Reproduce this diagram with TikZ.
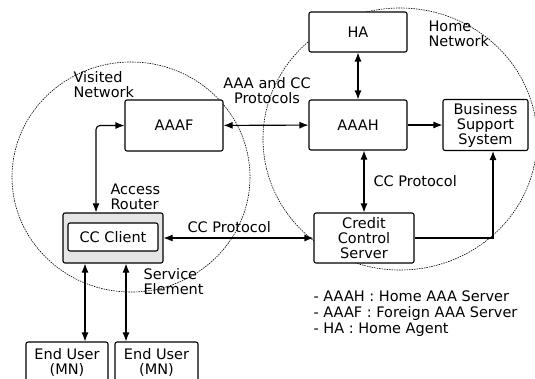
\documentclass[tikz,border=0pt]{standalone}
\usepackage{fontspec}
\setmainfont{DejaVu Sans}
\usetikzlibrary{arrows.meta}
\tikzset{>={Latex[length=9pt, width=7pt]}}
\tikzset{box/.style={draw, rounded corners=2pt, align=center, inner sep=0pt},
    lbl/.style={align=left, inner sep=0pt},
    net/.style={line width=.6pt, dash pattern=on 1.5pt off 1pt}}

\begin{document}
\begin{tikzpicture}[x=1pt, y=-1pt, line width=1.1pt, font=\fontsize{14.5}{15}\selectfont]
    \useasboundingbox(0, 0)rectangle(535, 378);
    \clip(0, 0)rectangle(535, 378);
    \draw[net](131, 177)ellipse[x radius=119, y radius=115];
    \draw[net](400, 139)ellipse[x radius=137, y radius=131];
    \node[box, fill=white, minimum width=98, minimum height=40](ha)at(358, 32){HA};
    \node[box, fill=white, minimum width=98, minimum height=50](aaah)at(358, 125){AAAH};
    \node[box, fill=white, minimum width=98, minimum height=51](aaaf)at(174, 125.5){AAAF};
    \node[box, fill=white, minimum width=85, minimum height=51](bss)at(485.5, 125){Business\\Support\\System};
    \node[box, fill=white, minimum width=100, minimum height=50](ccs)at(364, 238){Credit\\Control\\Server};
    \node[box, fill=black!10, minimum width=100, minimum height=50](ar)at(113, 238){};
    \node[box, fill=white, minimum width=90, minimum height=28](ccc)at(113, 237){CC Client};
    \node[box, minimum width=82, minimum height=40](eu1)at(67, 362){End User\\(MN)};
    \node[box, minimum width=83, minimum height=40](eu2)at(156.5, 362){End User\\(MN)};
    \node[lbl, anchor=north west](vn)at(73, 71){Visited\\Network};
    \node[lbl, anchor=north west](hn)at(428, 20){Home\\Network};
    \node[lbl, align=center, anchor=north](aaacc)at(267, 77){AAA and CC\\Protocols};
    \node[lbl, anchor=north west](ccp1)at(373, 175){CC Protocol};
    \node[lbl, anchor=north west](ccp2)at(187, 221){CC Protocol};
    \node[lbl, anchor=north west](arl)at(110, 183){Access\\Router};
    \node[lbl, anchor=north west](sel)at(143, 268){Service\\Element};
    \node[lbl, anchor=north west, font=\fontsize{14.5}{16}\selectfont](legend)at(313, 290){- AAAH : Home AAA Server\\- AAAF : Foreign AAA Server\\- HA : Home Agent};
    \draw[<->](aaaf)--(aaah);
    \draw[<->](ha)--(aaah);
    \draw[->](aaah)--(bss);
    \draw[<->](ccs.north)--(ccs.north|-aaah.south);
    \draw[<->](ar)--(ccs);
    \draw[->](ccs.east)-|([xshift=7.5pt]bss.south);
    \draw[<->, rounded corners=4pt](aaaf.west)-|([xshift=-17pt]ar.north);
    \draw[<->]([xshift=-28pt]ar.south)--([xshift=-28pt]ar.south|-eu1.north);
    \draw[<->]([xshift=13pt]ar.south)--([xshift=13pt]ar.south|-eu2.north);
\end{tikzpicture}
\end{document}
